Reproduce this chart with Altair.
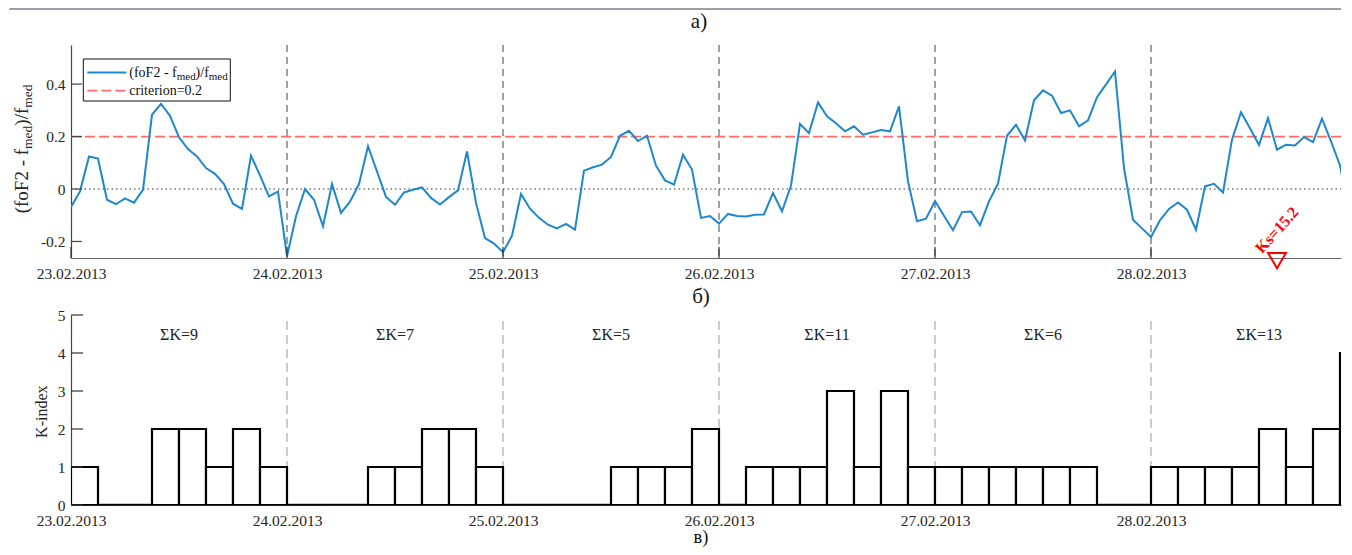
import altair as alt
import pandas as pd

# ---------------- data ----------------
day_labels = ["23.02.2013", "24.02.2013", "25.02.2013", "26.02.2013", "27.02.2013", "28.02.2013"]

# hourly (foF2 - fmed)/fmed, one list per day
dev_d1 = [-0.069, -0.009, 0.124, 0.116, -0.041, -0.058, -0.036, -0.052, -0.003, 0.283, 0.325, 0.279,
          0.197, 0.152, 0.124, 0.080, 0.058, 0.019, -0.056, -0.076, 0.127, 0.052, -0.028, -0.010]
dev_d2 = [-0.257, -0.104, 0.000, -0.041, -0.142, 0.019, -0.091, -0.048, 0.019, 0.163, 0.067, -0.030,
          -0.060, -0.013, -0.003, 0.006, -0.034, -0.059, -0.031, -0.005, 0.143, -0.053, -0.187, -0.208]
dev_d3 = [-0.241, -0.178, -0.019, -0.075, -0.110, -0.136, -0.150, -0.133, -0.155, 0.070, 0.083, 0.093,
          0.122, 0.203, 0.222, 0.183, 0.203, 0.089, 0.033, 0.017, 0.131, 0.074, -0.110, -0.103]
dev_d4 = [-0.132, -0.095, -0.103, -0.105, -0.098, -0.097, -0.015, -0.085, 0.013, 0.248, 0.213, 0.330,
          0.277, 0.251, 0.220, 0.239, 0.207, 0.216, 0.225, 0.220, 0.315, 0.029, -0.123, -0.113]
dev_d5 = [-0.046, -0.102, -0.157, -0.088, -0.086, -0.138, -0.047, 0.020, 0.203, 0.245, 0.185, 0.338,
          0.376, 0.356, 0.290, 0.300, 0.239, 0.262, 0.350, 0.399, 0.448, 0.080, -0.117, -0.150]
dev_d6 = [-0.183, -0.119, -0.076, -0.051, -0.079, -0.155, 0.010, 0.020, -0.013, 0.188, 0.293, 0.232,
          0.168, 0.270, 0.150, 0.169, 0.166, 0.198, 0.179, 0.268, 0.182, 0.090, -0.091, -0.060]

# 3-hourly K-index, one list per day
k_d1 = [1, 0, 0, 2, 2, 1, 2, 1]
k_d2 = [0, 0, 0, 1, 1, 2, 2, 1]
k_d3 = [0, 0, 0, 0, 1, 1, 1, 2]
k_d4 = [0, 1, 1, 1, 3, 1, 3, 1]
k_d5 = [1, 1, 1, 1, 1, 1, 0, 0]
k_d6 = [1, 1, 1, 1, 2, 1, 2, 4]

k_sum_labels = ["ΣK=9", "ΣK=7", "ΣK=5", "ΣK=11", "ΣK=6", "ΣK=13"]

criterion = 0.2
ks_label = "Ks=15.2"
ks_hour = 134

y1_ticks = [-0.2, 0, 0.2, 0.4]
y2_ticks = [0, 1, 2, 3, 4, 5]
day_hours = [0, 24, 48, 72, 96, 120]
boundary_hours = [24, 48, 72, 96, 120]

# ---------------- tables ----------------
dev = dev_d1 + dev_d2 + dev_d3 + dev_d4 + dev_d5 + dev_d6
line_df = pd.DataFrame({"hour": list(range(len(dev))), "dev": dev})
kvals = k_d1 + k_d2 + k_d3 + k_d4 + k_d5 + k_d6
bars_df = pd.DataFrame({"start": [3 * i for i in range(len(kvals))],
                        "end": [3 * i + 3 for i in range(len(kvals))],
                        "k": kvals})
sum_df = pd.DataFrame({"hour": [24 * i + 12 for i in range(6)], "lab": k_sum_labels,
                       "yy": [4.48] * 6})
bound_df = pd.DataFrame({"hour": boundary_hours})
dayt_df = pd.DataFrame({"hour": day_hours})
y1t_df = pd.DataFrame({"v": y1_ticks})
y2t_df = pd.DataFrame({"v": y2_ticks})
hl_df = pd.DataFrame({"v": [0.0]})
crit_df = pd.DataFrame({"v": [criterion]})
ks_df = pd.DataFrame({"hour": [ks_hour], "ym": [-0.273], "yt": [-0.157], "lab": [ks_label]})
one = pd.DataFrame({"a": [0]})

# ---------------- layout constants ----------------
FONT = "Liberation Serif"
W = 1270
H1 = 213
H2 = 190
GAP = 57
XMAX = W / 9.0
LBL = "#262626"

x_scale = alt.Scale(domain=[0, XMAX], nice=False, zero=False)
y1_scale = alt.Scale(domain=[-0.263, 0.549], nice=False, zero=False)
y2_scale = alt.Scale(domain=[0, 5], nice=False, zero=False)

lab_expr = "[" + ",".join("'" + s + "'" for s in day_labels) + "][round(datum.value/24)]"


def xaxis(pad, dcol):
    return alt.Axis(values=day_hours, labelExpr=lab_expr, title=None, ticks=False, grid=False,
                    labelPadding=pad, labelFlush=False, labelOverlap=False, labelFont=FONT,
                    labelFontSize=15.5, labelColor=LBL, domainColor=dcol, domainWidth=1.2)


def yaxis(vals):
    return alt.Axis(values=vals, labelExpr="toString(datum.value)", title=None, ticks=False,
                    grid=False, labelPadding=6, labelFont=FONT, labelFontSize=15.5,
                    labelColor=LBL, domainColor="#444", domainWidth=1.2)


ax_top = xaxis(8, "#666")
ax_bot = xaxis(8, "#222")
ay_top = yaxis(y1_ticks)
ay_bot = yaxis(y2_ticks)


def X1(f):
    return alt.X(f, type="quantitative", scale=x_scale, axis=ax_top)


def X2(f):
    return alt.X(f, type="quantitative", scale=x_scale, axis=ax_bot)


def Y1(f):
    return alt.Y(f, type="quantitative", scale=y1_scale, axis=ay_top)


def Y2(f):
    return alt.Y(f, type="quantitative", scale=y2_scale, axis=ay_bot)


def txt(s, x, y, size, **kw):
    return alt.Chart(one).mark_text(text=s, font=FONT, fontSize=size, **kw).encode(
        x=alt.value(x), y=alt.value(y))


# ---------------- top panel ----------------
t_bounds = alt.Chart(bound_df).mark_rule(color="#444", strokeDash=[7, 5], strokeWidth=1).encode(
    x=X1("hour"), y=alt.value(0), y2=alt.value(H1))
t_zero = alt.Chart(hl_df).mark_rule(color="#333", strokeDash=[1.5, 3], strokeWidth=1.2).encode(
    y=Y1("v"), x=alt.value(0), x2=alt.value(W))
t_crit = alt.Chart(crit_df).mark_rule(color="#ff6b6b", strokeDash=[10, 4], strokeWidth=1.8).encode(
    y=Y1("v"), x=alt.value(0), x2=alt.value(W))
t_line = alt.Chart(line_df).mark_line(color="#1f88cc", strokeWidth=2, clip=True).encode(
    x=X1("hour"), y=Y1("dev"))
t_yt = alt.Chart(y1t_df).mark_rule(color="#444", strokeWidth=1.2).encode(
    y=Y1("v"), x=alt.value(0), x2=alt.value(11))
t_xt = alt.Chart(dayt_df).mark_rule(color="#333", strokeWidth=1.2).encode(
    x=X1("hour"), y=alt.value(H1), y2=alt.value(H1 - 11))
t_ks = alt.Chart(ks_df).mark_point(shape="triangle-down", filled=False, color="#ff0000",
                                   size=320, strokeWidth=2, opacity=1).encode(
    x=X1("hour"), y=Y1("ym"))
t_kst = alt.Chart(ks_df).mark_text(font=FONT, fontSize=16, fontWeight="bold", color="#ff0000",
                                   angle=312, align="center", baseline="middle").encode(
    x=X1("hour"), y=Y1("yt"), text="lab:N")

# legend (drawn by hand to allow subscripts)
leg_box = alt.Chart(one).mark_rect(fill="white", stroke="#111", strokeWidth=1).encode(
    x=alt.value(12.3), x2=alt.value(159.3), y=alt.value(14), y2=alt.value(56))
leg_l1 = alt.Chart(one).mark_rule(color="#1f88cc", strokeWidth=2).encode(
    x=alt.value(16.3), x2=alt.value(55.3), y=alt.value(27.5))
leg_l2 = alt.Chart(one).mark_rule(color="#ff6b6b", strokeWidth=1.8, strokeDash=[10, 4]).encode(
    x=alt.value(16.3), x2=alt.value(55.3), y=alt.value(45.7))
LF, LS = 14, 11
leg_t = [
    txt("(foF2 - f", 58.3, 31.5, LF, align="left", baseline="alphabetic", color="#111"),
    txt("med", 105.7, 34.5, LS, align="left", baseline="alphabetic", color="#111"),
    txt(")/f", 124.6, 31.5, LF, align="left", baseline="alphabetic", color="#111"),
    txt("med", 137.8, 34.5, LS, align="left", baseline="alphabetic", color="#111"),
    txt("criterion=0.2", 58.3, 50, LF, align="left", baseline="alphabetic", color="#111"),
]

# rotated y title with subscripts
TF, TS = 19, 13.5
yb, ys = -42.7, -39.0
ytitle = [
    txt("(foF2 - f", yb, 168.3, TF, angle=270, align="left", baseline="alphabetic", color=LBL),
    txt("med", ys, 103.9, TS, angle=270, align="left", baseline="alphabetic", color=LBL),
    txt(")/f", yb, 80.65, TF, angle=270, align="left", baseline="alphabetic", color=LBL),
    txt("med", ys, 62.7, TS, angle=270, align="left", baseline="alphabetic", color=LBL),
]

top_line = alt.Chart(one).mark_rule(color="#9aa0a6", strokeWidth=2).encode(
    x=alt.value(-61.7), x2=alt.value(W), y=alt.value(-36))
t_title = txt("а)", 628, -17, 21, align="center", baseline="alphabetic", color="#111")
t_sub = txt("б)", 630, H1 + 45, 21, align="center", baseline="alphabetic", color="#111")

top = alt.layer(t_bounds, t_zero, t_crit, t_line, t_yt, t_xt, t_ks, t_kst, leg_box, leg_l1,
                leg_l2, *leg_t, *ytitle, top_line, t_title, t_sub).properties(width=W, height=H1)

# ---------------- bottom panel ----------------
b_bounds = alt.Chart(bound_df).mark_rule(color="#999", strokeDash=[9, 5], strokeWidth=1).encode(
    x=X2("hour"), y=alt.value(6), y2=alt.value(H2))
b_bars = alt.Chart(bars_df).mark_rect(fill="white", stroke="#000", strokeWidth=2.2,
                                      clip=True).encode(
    x=X2("start"), x2="end", y=Y2("k"), y2=alt.datum(0))
b_zero = alt.Chart(bars_df).transform_filter("datum.k == 0").mark_rule(
    color="#000", strokeWidth=2.4, clip=True).encode(x=X2("start"), x2="end", y=Y2("k"))
b_sum = alt.Chart(sum_df).mark_text(font=FONT, fontSize=16, color="#222", align="center",
                                    baseline="middle").encode(
    x=X2("hour"), y=Y2("yy"), text="lab:N")
b_yt = alt.Chart(y2t_df).mark_rule(color="#333", strokeWidth=1.2).encode(
    y=Y2("v"), x=alt.value(0), x2=alt.value(12))
b_ytitle = txt("K-index", -28.7, 96.7, 16, angle=270, align="center", baseline="middle", color=LBL)
b_sub = txt("в)", 630, 228.1, 18.5, align="center", baseline="alphabetic", color="#111")

bottom = alt.layer(b_bounds, b_bars, b_zero, b_sum, b_yt, b_ytitle, b_sub).properties(
    width=W, height=H2)

chart = alt.vconcat(top, bottom, spacing=GAP, bounds="flush").properties(
    padding=0, background="white").configure_view(stroke=None)

chart.save("out.html", embed_options={"renderer": "svg", "actions": False})
